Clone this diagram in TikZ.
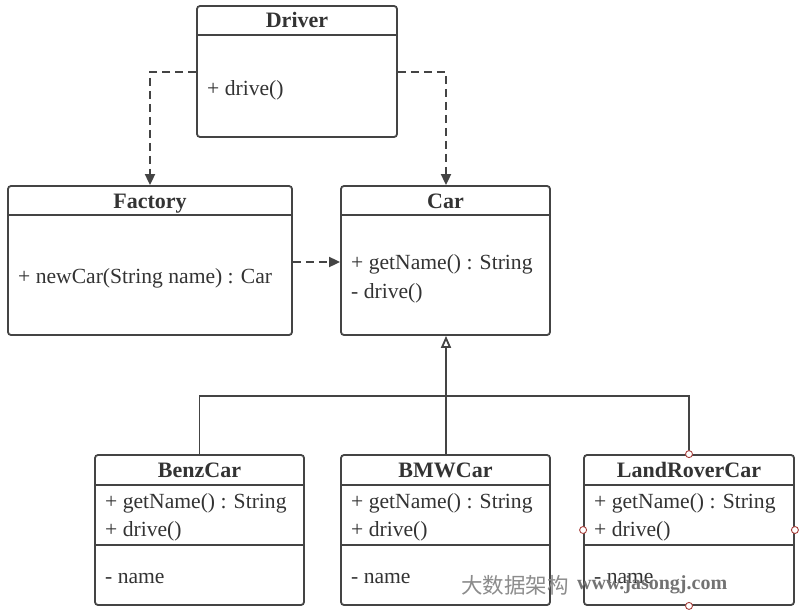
\documentclass[tikz,border=0pt]{standalone}
\usepackage{fontspec}
\setmainfont{Liberation Serif}
\newfontfamily\cjkfont{Noto Sans CJK SC}
\usetikzlibrary{arrows.meta}
\definecolor{linec}{HTML}{444444}
\definecolor{textc}{HTML}{333333}
\definecolor{handlec}{HTML}{A8403C}
\begin{document}
\begin{tikzpicture}[x=1pt,y=-1pt,
  classbox/.style={draw=linec, line width=1.8pt, rounded corners=3pt, inner sep=0pt, fill=white},
  divider/.style={draw=linec, line width=1.8pt},
  title/.style={font=\fontsize{22}{26}\selectfont\bfseries, text=textc, inner sep=0pt, text height=0.7em, text depth=0.2em, yshift=-4.5pt},
  member/.style={font=\fontsize{21.6}{26}\selectfont, text=textc, inner sep=0pt, anchor=west, text height=0.7em, text depth=0.2em, yshift=-5pt},
  dep/.style={draw=linec, line width=1.8pt, dash pattern=on 8pt off 5pt, -{Triangle[length=11pt,width=10pt]}},
  gen/.style={draw=linec, line width=1.8pt},
  handle/.style={circle, draw=handlec, fill=white, line width=0.9pt, minimum size=7pt, inner sep=0pt}
]
\useasboundingbox (0,0) rectangle (802,610);

% Driver
\node[classbox, minimum width=200pt, minimum height=131pt] (driver) at (297,71.5) {};
\draw[divider] (driver.west |- 0,35) -- (driver.east |- 0,35);
\node[title] (drivert) at (297,20.5) {Driver};
\node[member] (driverm) at (207,88) {+ drive()};

% Factory
\node[classbox, minimum width=284pt, minimum height=149pt] (factory) at (150,260.5) {};
\draw[divider] (factory.west |- 0,215) -- (factory.east |- 0,215);
\node[title] (factoryt) at (150,201) {Factory};
\node[member] (factorym) at (18,276) {+ newCar(String name) : Car};

% Car
\node[classbox, minimum width=209pt, minimum height=149pt] (car) at (445.5,260.5) {};
\draw[divider] (car.west |- 0,215) -- (car.east |- 0,215);
\node[title] (cart) at (445.5,201) {Car};
\node[member] (carm1) at (351,262) {+ getName() : String};
\node[member] (carm2) at (351,291) {- drive()};

% BenzCar
\node[classbox, minimum width=209pt, minimum height=150pt] (benz) at (199.5,530) {};
\draw[divider] (benz.west |- 0,485) -- (benz.east |- 0,485);
\draw[divider] (benz.west |- 0,545) -- (benz.east |- 0,545);
\node[title] (benzt) at (199.5,470) {BenzCar};
\node[member] (benzm1) at (105,501) {+ getName() : String};
\node[member] (benzm2) at (105,529) {+ drive()};
\node[member] (benzm3) at (105,576) {- name};

% BMWCar
\node[classbox, minimum width=209pt, minimum height=150pt] (bmw) at (445.5,530) {};
\draw[divider] (bmw.west |- 0,485) -- (bmw.east |- 0,485);
\draw[divider] (bmw.west |- 0,545) -- (bmw.east |- 0,545);
\node[title] (bmwt) at (445.5,470) {BMWCar};
\node[member] (bmwm1) at (351,501) {+ getName() : String};
\node[member] (bmwm2) at (351,529) {+ drive()};
\node[member] (bmwm3) at (351,576) {- name};

% LandRoverCar
\node[classbox, minimum width=210pt, minimum height=150pt] (land) at (689,530) {};
\draw[divider] (land.west |- 0,485) -- (land.east |- 0,485);
\draw[divider] (land.west |- 0,545) -- (land.east |- 0,545);
\node[title] (landt) at (689,470) {LandRoverCar};
\node[member] (landm1) at (594,501) {+ getName() : String};
\node[member] (landm2) at (594,529) {+ drive()};
\node[member] (landm3) at (594,576) {- name};

% dependencies
\coordinate (dl) at (150,72);
\coordinate (dr) at (446,72);
\draw[dep] (driver.west |- dl) -- (dl) -- (factory.north);
\draw[dep] (driver.east |- dr) -- (dr) -- (dr |- car.north);
\draw[dep] (factory.east |- 0,262) -- (car.west |- 0,262);

% generalization
\coordinate (junc) at (446,396);
\draw[gen] (benz.north) |- (junc) -| (land.north);
\draw[gen, -{Triangle[open, length=12pt, width=10pt, fill=white]}] (bmw.north -| junc) -- (junc |- car.south);

% selection handles
\node[handle] (h1) at (land.north) {};
\node[handle] (h2) at (land.west) {};
\node[handle] (h3) at (land.east) {};
\node[handle] (h4) at (land.south) {};

% watermark
\node[inner sep=0pt, anchor=west, text=black!45, font=\cjkfont\fontsize{21.5}{24}\selectfont] (wm1) at (461,585) {大数据架构};
\node[inner sep=0pt, anchor=west, text=black!55, font=\fontsize{20}{24}\selectfont\bfseries] (wm2) at (577,585) {www.jasongj.com};
\end{tikzpicture}
\end{document}
